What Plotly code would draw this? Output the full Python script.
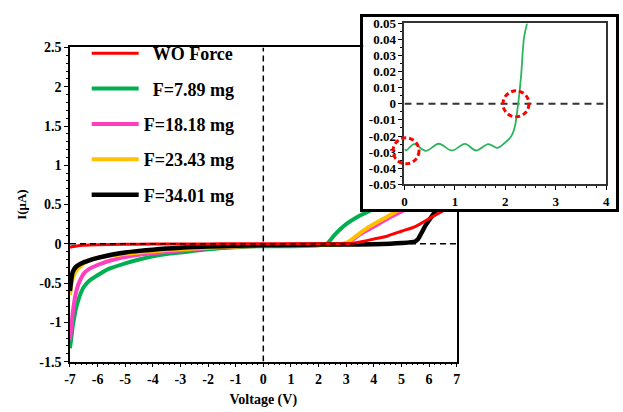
import plotly.graph_objects as go

# ---- I-V sweeps (voltage in V, current in µA) ----
v_wo = [-7.0, -6.9, -6.8, -6.5, -6.0, -5.0, -4.0, -3.0, -2.0, -1.0, 0.0, 1.0, 2.0, 3.0, 3.2,
        3.6, 4.0, 4.5, 5.0, 5.5, 6.0, 6.3, 6.6, 7.0]
i_wo = [-0.045, -0.035, -0.03, -0.02, -0.012, -0.006, -0.003, -0.002, -0.001, 0.0, 0.0, 0.0, 0.0,
        0.0, 0.005, 0.03, 0.06, 0.1, 0.16, 0.22, 0.32, 0.38, 0.44, 0.52]

v_f789 = [-7.0, -6.95, -6.9, -6.85, -6.8, -6.7, -6.6, -6.5, -6.3, -6.0, -5.6, -5.0, -4.5, -4.0,
          -3.5, -3.0, -2.5, -2.0, -1.5, -1.0, -0.5, 0.0, 0.5, 1.0, 1.5, 2.0, 2.3, 2.6, 3.0, 3.5,
          3.9, 4.5, 5.0]
i_f789 = [-1.33, -1.2, -1.05, -0.95, -0.85, -0.72, -0.62, -0.55, -0.47, -0.4, -0.32, -0.25, -0.2,
          -0.16, -0.13, -0.11, -0.09, -0.07, -0.055, -0.045, -0.035, -0.03, -0.03, -0.03, -0.028,
          -0.02, 0.0, 0.12, 0.25, 0.36, 0.43, 0.6, 0.75]

v_f1818 = [-7.0, -6.95, -6.9, -6.85, -6.8, -6.7, -6.6, -6.5, -6.3, -6.0, -5.5, -5.0, -4.5, -4.0,
           -3.5, -3.0, -2.5, -2.0, -1.5, -1.0, -0.5, 0.0, 1.0, 2.0, 2.8, 3.1, 3.5, 4.0, 4.5, 5.1,
           5.6]
i_f1818 = [-1.23, -1.05, -0.88, -0.75, -0.65, -0.52, -0.44, -0.38, -0.32, -0.27, -0.21, -0.17,
           -0.14, -0.12, -0.1, -0.085, -0.07, -0.055, -0.045, -0.035, -0.03, -0.025, -0.02,
           -0.015, -0.005, 0.02, 0.12, 0.22, 0.32, 0.43, 0.55]

v_f2343 = [-7.0, -6.95, -6.9, -6.8, -6.7, -6.6, -6.5, -6.3, -6.0, -5.5, -5.0, -4.5, -4.0, -3.5,
           -3.0, -2.5, -2.0, -1.5, -1.0, -0.5, 0.0, 1.0, 2.0, 2.8, 3.05, 3.4, 3.8, 4.4, 4.9, 5.4]
i_f2343 = [-0.65, -0.52, -0.44, -0.36, -0.31, -0.28, -0.25, -0.21, -0.18, -0.15, -0.13, -0.11,
           -0.095, -0.08, -0.07, -0.06, -0.05, -0.04, -0.035, -0.03, -0.025, -0.02, -0.015,
           -0.005, 0.02, 0.11, 0.21, 0.33, 0.43, 0.53]

v_f3401 = [-7.0, -6.95, -6.9, -6.8, -6.6, -6.3, -6.0, -5.5, -5.0, -4.5, -4.0, -3.5, -3.0, -2.5,
           -2.0, -1.0, 0.0, 1.0, 2.0, 3.0, 4.0, 5.0, 5.5, 5.6, 5.9, 6.3, 6.5]
i_f3401 = [-0.6, -0.45, -0.36, -0.3, -0.25, -0.21, -0.18, -0.14, -0.11, -0.09, -0.075, -0.06,
           -0.05, -0.04, -0.035, -0.025, -0.02, -0.015, -0.01, -0.008, -0.005, 0.01, 0.03, 0.06,
           0.25, 0.45, 0.6]

# ---- inset: F=7.89 mg close to the origin ----
v_zoom = [0.0, 0.03, 0.19, 0.42, 0.68, 0.94, 1.2, 1.42, 1.66, 1.84, 1.98, 2.11, 2.18, 2.24, 2.31,
          2.37, 2.43]
i_zoom = [-0.028, -0.029, -0.025, -0.0292, -0.0248, -0.029, -0.0249, -0.029, -0.025, -0.0274,
          -0.0245, -0.0205, -0.0153, -0.0035, 0.0168, 0.041, 0.05]

# highlighted points on the inset curve
mark_v = [0.03, 2.21]
mark_i = [-0.0292, 0.0]

x_ticks = list(range(-7, 8))
x_ticktext = [str(t) for t in x_ticks]
y_ticks = [-1.5, -1.0, -0.5, 0.0, 0.5, 1.0, 1.5, 2.0, 2.5]
y_ticktext = ["-1.5", "-1", "-0.5", "0", "0.5", "1", "1.5", "2", "2.5"]
zx_ticks = [0, 1, 2, 3, 4]
zx_ticktext = ["0", "1", "2", "3", "4"]
zy_ticks = [-0.05, -0.04, -0.03, -0.02, -0.01, 0.0, 0.01, 0.02, 0.03, 0.04, 0.05]
zy_ticktext = ["-0.05", "-0.04", "-0.03", "-0.02", "-0.01", "0", "0.01", "0.02", "0.03",
               "0.04", "0.05"]

W, H = 623, 412
SERIF = "Liberation Serif"
tick_font = dict(family=SERIF, size=14, color="black", weight="bold")
inset_font = dict(family=SERIF, size=13, color="black", weight="bold")

# inset placement (paper fractions) and ranges
ZX_DOM = [405 / W, 610 / W]
ZY_DOM = [1 - 184 / H, 1 - 17 / H]
ZX_RANGE = [0, 4]
ZY_RANGE = [-0.05, 0.05]

NB = "\u00a0"
series = [
    # name, legend label, x, y, colour, width, legend rank
    ("F=7.89 mg", NB * 2 + "F=7.89 mg", v_f789, i_f789, "#00b050", 4, 2),
    ("F=18.18 mg", "F=18.18 mg", v_f1818, i_f1818, "#ff3fbf", 4, 3),
    ("F=23.43 mg", "F=23.43 mg", v_f2343, i_f2343, "#ffc000", 4, 4),
    ("F=34.01 mg", "F=34.01 mg", v_f3401, i_f3401, "#000000", 4.5, 5),
    ("WO Force", NB * 2 + "WO Force", v_wo, i_wo, "#ff0000", 3, 1),
]

fig = go.Figure()
for key, label, xs, ys, col, lw, rank in series:
    fig.add_trace(go.Scatter(
        x=xs, y=ys, mode="lines", name=label, legendrank=rank, legendgroup=key,
        line=dict(color=col, width=lw, shape="spline", smoothing=0.6),
        xaxis="x", yaxis="y"))

# dashed reference lines through the origin
fig.add_trace(go.Scatter(x=[-7, 7], y=[0, 0], mode="lines", showlegend=False,
                         line=dict(color="black", width=1.5, dash="6px,4px")))
fig.add_trace(go.Scatter(x=[0, 0], y=[-1.5, 2.5], mode="lines", showlegend=False,
                         line=dict(color="black", width=1.5, dash="6px,4px")))

# frame of the inset panel (empty subplot used as a white card)
fig.add_trace(go.Scatter(x=[], y=[], xaxis="x2", yaxis="y2", showlegend=False))

# inset curve
fig.add_trace(go.Scatter(x=[0, 4], y=[0, 0], mode="lines", showlegend=False, cliponaxis=False,
                         xaxis="x3", yaxis="y3",
                         line=dict(color="#333333", width=2, dash="7px,5px")))
fig.add_trace(go.Scatter(x=v_zoom, y=i_zoom, mode="lines", showlegend=False,
                         xaxis="x3", yaxis="y3",
                         line=dict(color="#2db55d", width=1.8, shape="spline", smoothing=1.0)))


def inset_to_paper(v, i):
    px = ZX_DOM[0] + (v - ZX_RANGE[0]) / (ZX_RANGE[1] - ZX_RANGE[0]) * (ZX_DOM[1] - ZX_DOM[0])
    py = ZY_DOM[0] + (i - ZY_RANGE[0]) / (ZY_RANGE[1] - ZY_RANGE[0]) * (ZY_DOM[1] - ZY_DOM[0])
    return px, py


# dashed rings around the highlighted points (paper refs so they are not clipped)
for mv, mi in zip(mark_v, mark_i):
    ax, ay = inset_to_paper(mv, mi)
    fig.add_shape(type="circle", xref="paper", yref="paper", xsizemode="pixel",
                  ysizemode="pixel", xanchor=ax, yanchor=ay, x0=-13, x1=13, y0=-13, y1=13,
                  layer="above", line=dict(color="#ff0000", width=3, dash="5px,3px"))

axis_common = dict(showline=True, mirror=True, linecolor="black", showgrid=False,
                   zeroline=False, ticks="outside", ticklen=4,
                   tickcolor="black", fixedrange=True)

fig.update_layout(
    width=W, height=H,
    margin=dict(l=0, r=0, t=0, b=0),
    paper_bgcolor="white", plot_bgcolor="white",
    showlegend=True,
    legend=dict(x=82 / W, y=1 - 29 / H, xanchor="left", yanchor="top",
                bgcolor="rgba(0,0,0,0)", traceorder="grouped", tracegroupgap=9,
                itemwidth=47,
                font=dict(family=SERIF, size=18, color="black", weight="bold")),
    xaxis=dict(axis_common, domain=[65 / W, 458 / W], range=[-7, 7], linewidth=1.5,
               tickfont=tick_font, tickvals=x_ticks, ticktext=x_ticktext,
               minor=dict(dtick=0.2, ticks="outside", ticklen=2, tickcolor="black"),
               title=dict(text="Voltage (V)", standoff=8,
                          font=dict(family=SERIF, size=14, color="black", weight="bold"))),
    yaxis=dict(axis_common, domain=[1 - 368 / H, 1 - 42 / H], range=[-1.5, 2.5], linewidth=1.5,
               tickfont=tick_font, tickvals=y_ticks, ticktext=y_ticktext,
               minor=dict(dtick=0.1, ticks="outside", ticklen=2, tickcolor="black"),
               title=dict(text="I(μA)", standoff=10,
                          font=dict(family=SERIF, size=13, color="black", weight="bold"))),
    xaxis2=dict(domain=[363 / W, 620 / W], range=[0, 1], anchor="y2", showline=True,
                mirror=True, linecolor="black", linewidth=2.5, showgrid=False, zeroline=False,
                showticklabels=False, ticks="", fixedrange=True),
    yaxis2=dict(domain=[1 - 210 / H, 1 - 10 / H], range=[0, 1], anchor="x2", showline=True,
                mirror=True, linecolor="black", linewidth=2.5, showgrid=False, zeroline=False,
                showticklabels=False, ticks="", fixedrange=True),
    xaxis3=dict(axis_common, domain=ZX_DOM, range=ZX_RANGE, anchor="y3",
                linewidth=2, linecolor="#333333", tickfont=inset_font,
                tickvals=zx_ticks, ticktext=zx_ticktext,
                minor=dict(dtick=0.2, ticks="outside", ticklen=2, tickcolor="black")),
    yaxis3=dict(axis_common, domain=ZY_DOM, range=ZY_RANGE,
                anchor="x3", linewidth=2, linecolor="#333333", tickfont=inset_font,
                tickvals=zy_ticks, ticktext=zy_ticktext,
                minor=dict(dtick=0.005, ticks="outside", ticklen=2, tickcolor="black")),
)

fig.write_html("out.html")
